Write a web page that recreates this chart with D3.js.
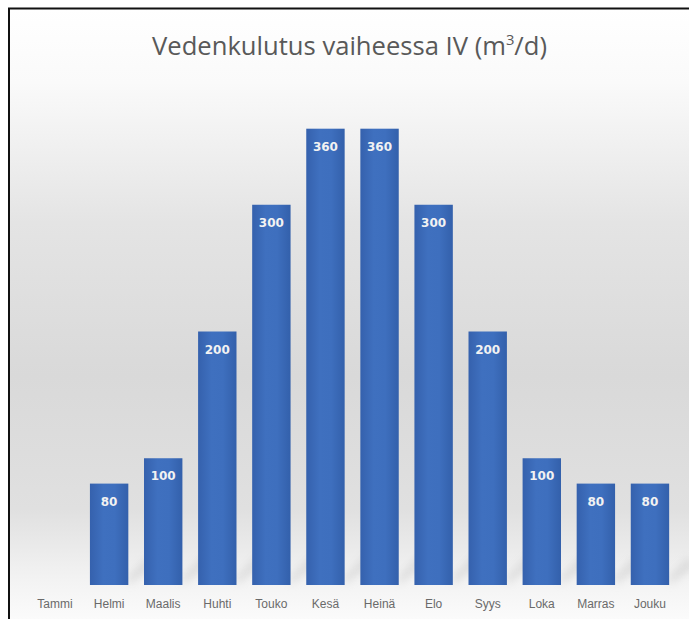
<!DOCTYPE html>
<html>
<head>
<meta charset="utf-8">
<script src="https://cdn.jsdelivr.net/npm/d3@7"></script>
<style>
  html, body { margin: 0; padding: 0; background: #ffffff; }
  svg { display: block; }
</style>
</head>
<body>
<svg id="chart" width="689" height="619"></svg>
<script>
// Monthly water consumption, phase IV (m³/d)
const months = ["Tammi", "Helmi", "Maalis", "Huhti", "Touko", "Kesä", "Heinä", "Elo", "Syys", "Loka", "Marras", "Jouku"];
const consumption = [0, 80, 100, 200, 300, 360, 360, 300, 200, 100, 80, 80];
const valueLabels = ["", "80", "100", "200", "300", "360", "360", "300", "200", "100", "80", "80"];

const W = 689, H = 619;
const svg = d3.select("#chart");
const defs = svg.append("defs");

// Plot-area background: white at the top fading to grey, lighter again near the axis
const bg = defs.append("linearGradient").attr("id", "bgGrad")
  .attr("x1", 0).attr("y1", 0).attr("x2", 0).attr("y2", 1);
[[0, "#ffffff"], [0.12, "#fafafa"], [0.35, "#e4e4e4"], [0.6, "#d9d9d9"], [0.82, "#e0e0e0"], [0.93, "#f2f2f2"], [1, "#fbfbfb"]]
  .forEach(([o, c]) => bg.append("stop").attr("offset", o).attr("stop-color", c));

// Bar fill: slightly darker edges, lighter middle
const barGrad = defs.append("linearGradient").attr("id", "barGrad")
  .attr("x1", 0).attr("y1", 0).attr("x2", 1).attr("y2", 0);
[[0, "#3561ad"], [0.35, "#3f70bf"], [0.65, "#3e6fbe"], [1, "#3360ab"]]
  .forEach(([o, c]) => barGrad.append("stop").attr("offset", o).attr("stop-color", c));

// Soft shadow for the bars
const blur = defs.append("filter").attr("id", "soft")
  .attr("x", "-50%").attr("y", "-50%").attr("width", "200%").attr("height", "200%");
blur.append("feGaussianBlur").attr("stdDeviation", 4);

svg.append("rect").attr("x", 10).attr("y", 9).attr("width", W - 10).attr("height", H - 9)
  .attr("fill", "url(#bgGrad)");

// Frame on the left and top
svg.append("path").attr("d", `M9,${H} V8.5 H${W}`)
  .attr("fill", "none").attr("stroke", "#111").attr("stroke-width", 2);

// Title, condensed horizontally to a narrow face
const titleG = svg.append("g");
const title = titleG.append("text")
  .attr("x", 0).attr("y", 0)
  .attr("text-anchor", "middle")
  .attr("font-family", "'Open Sans', 'Liberation Sans', sans-serif")
  .attr("font-size", 26)
  .attr("fill", "#595959");
title.append("tspan").text("Vedenkulutus vaiheessa IV (m");
title.append("tspan").attr("font-size", 15).attr("dy", -10).text("3");
title.append("tspan").attr("dy", 10).text("/d)");
const tw = title.node().getBBox().width || 395;
const sx = 395 / tw;
titleG.attr("transform", `translate(349.5,55) scale(${sx},1)`);

// Scales
const x = d3.scaleBand().domain(months).range([28, 677]).paddingInner(0.29).paddingOuter(0.145);
const y = d3.scaleLinear().domain([0, 400]).range([585, 78]);

const data = months.map((m, i) => ({ m, v: consumption[i], label: valueLabels[i] }));

// Diagonal ground shadows cast by the bars
const shadowG = svg.append("g").attr("filter", "url(#soft)").attr("opacity", 0.35);
shadowG.selectAll("path").data(data.filter(d => d.v > 0)).join("path")
  .attr("d", d => {
    const x0 = x(d.m) + x.bandwidth(), y0 = y(0);
    const len = Math.min(60, (y(0) - y(d.v)) * 0.35);
    return `M${x0},${y0} L${x0},${y0 - 8} L${x0 + len * 0.55},${y0 - 8 - len * 0.55} L${x0 + len * 0.55 + 6},${y0 - len * 0.55} Z`;
  })
  .attr("fill", "#b0b0b0");

// Bars
svg.append("g").selectAll("rect").data(data.filter(d => d.v > 0)).join("rect")
  .attr("x", d => x(d.m))
  .attr("y", d => y(d.v))
  .attr("width", x.bandwidth())
  .attr("height", d => y(0) - y(d.v))
  .attr("fill", "url(#barGrad)");

// Value labels inside the bar tops
svg.append("g").selectAll("text").data(data.filter(d => d.v > 0)).join("text")
  .attr("x", d => x(d.m) + x.bandwidth() / 2)
  .attr("y", d => y(d.v) + 22)
  .attr("text-anchor", "middle")
  .attr("font-family", "'DejaVu Sans', sans-serif")
  .attr("font-weight", "bold")
  .attr("font-size", 12)
  .attr("fill", "#f2f2f2")
  .text(d => d.label);

// Category axis
const xAxis = svg.append("g").attr("transform", `translate(0,${y(0)})`)
  .call(d3.axisBottom(x).tickSize(0).tickPadding(14));
xAxis.select(".domain").remove();
xAxis.selectAll("text")
  .attr("font-family", "'Liberation Sans Narrow', 'Liberation Sans', sans-serif")
  .attr("font-size", 12)
  .attr("fill", "#6a6a6a");
</script>
</body>
</html>
